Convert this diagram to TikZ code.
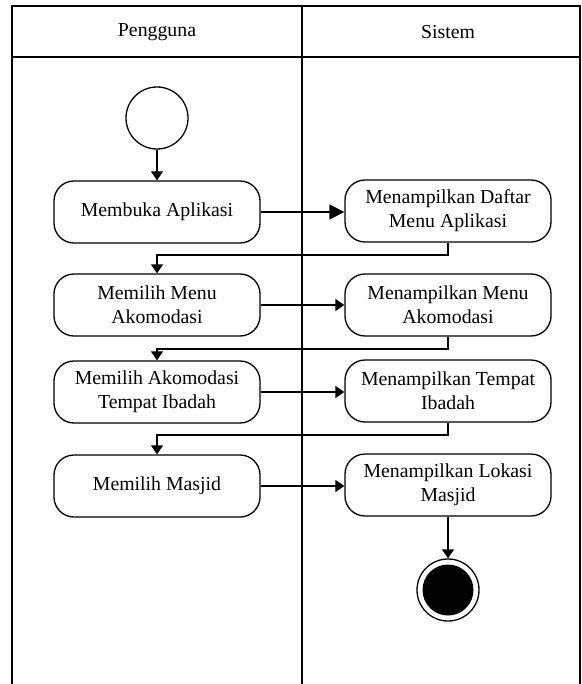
\documentclass[tikz,border=0pt]{standalone}
\usepackage{fontspec}
\setmainfont{Liberation Serif}
\usetikzlibrary{arrows.meta}
\begin{document}
\begin{tikzpicture}[x=1pt,y=-1pt,
  lane/.style={line width=1.4pt},
  act/.style={draw,line width=1.3pt,rounded corners=20pt,minimum height=62pt,
    align=center,font=\fontsize{19.8}{24}\selectfont,inner sep=0pt},
  actL/.style={act,minimum width=206pt},
  actR/.style={act,minimum width=206pt},
  flow/.style={line width=1.3pt,-{Triangle[length=9pt,width=12pt]}},
  bigflow/.style={line width=1.3pt,-{Triangle[length=15pt,width=15pt]}}]
\useasboundingbox (0,0) rectangle (581,684);
% swimlane frame
\draw[lane] (12,684) -- (12,6) -- (580,6) -- (580,684);
\draw[lane] (302,6) -- (302,684);
\draw[lane] (12,57) -- (580,57);
\node[font=\fontsize{19.8}{24}\selectfont] (hP) at (157,32) {Pengguna};
\node[font=\fontsize{19.8}{24}\selectfont] (hS) at (448,32) {Sistem};
% start and end
\node[draw,circle,line width=1.3pt,minimum size=62pt,inner sep=0pt] (start) at (157,118) {};
\node[draw,circle,line width=1.3pt,minimum size=62pt,inner sep=0pt] (end) at (448,590) {};
\node[fill=black,circle,minimum size=51pt,inner sep=0pt] (endin) at (448,590) {};
% activities
\node[actL] (a1) at (157,212) {Membuka Aplikasi};
\node[actR] (s1) at (448,211) {Menampilkan Daftar\\Menu Aplikasi};
\node[actL] (a2) at (157,305) {Memilih Menu\\Akomodasi};
\node[actR] (s2) at (448,305) {Menampilkan Menu\\Akomodasi};
\node[actL] (a3) at (157,392) {Memilih Akomodasi\\Tempat Ibadah};
\node[actR] (s3) at (448,391) {Menampilkan Tempat\\Ibadah};
\node[actL] (a4) at (157,486) {Memilih Masjid};
\node[actR] (s4) at (448,485) {Menampilkan Lokasi\\Masjid};
% flows
\draw[flow] (start) -- (a1);
\draw[bigflow] (a1.east) -- (a1.east -| s1.west);
\draw[flow] (s1.south) |- (157,255) -- (a2.north);
\draw[flow] (a2.east) -- (a2.east -| s2.west);
\draw[flow] (s2.south) |- (157,349) -- (a3.north);
\draw[flow] (a3.east) -- (a3.east -| s3.west);
\draw[flow] (s3.south) |- (157,435) -- (a4.north);
\draw[flow] (a4.east) -- (a4.east -| s4.west);
\draw[flow] (s4) -- (end);
\end{tikzpicture}
\end{document}
